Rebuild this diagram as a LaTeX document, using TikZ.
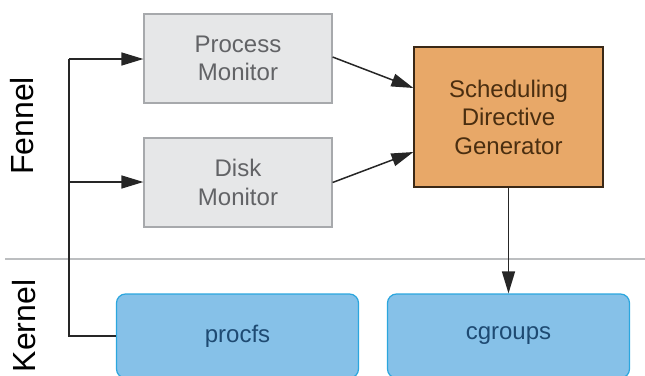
\documentclass[tikz,border=0pt]{standalone}
\usepackage{fontspec}
\setmainfont{Liberation Sans}
\usetikzlibrary{arrows.meta}
\definecolor{grayfill}{HTML}{E6E7E8}
\definecolor{grayline}{HTML}{A7A9AC}
\definecolor{graytext}{HTML}{626366}
\definecolor{orfill}{HTML}{E8A868}
\definecolor{orline}{HTML}{3A2816}
\definecolor{ortext}{HTML}{4A2E10}
\definecolor{blfill}{HTML}{86C1E8}
\definecolor{blline}{HTML}{2BA6DE}
\definecolor{bltext}{HTML}{1E4A72}
\definecolor{sepline}{HTML}{BCBEC0}
\tikzset{
  x=1pt, y=-1pt,
  monitor/.style={draw=grayline, fill=grayfill, line width=1.2pt, text=graytext,
    minimum width=188pt, minimum height=89pt, align=center,
    font=\fontsize{24}{28.5}\selectfont, inner sep=0pt},
  generator/.style={draw=orline, fill=orfill, line width=1.2pt, text=ortext,
    minimum width=189pt, minimum height=140pt, align=center,
    font=\fontsize{24}{28.5}\selectfont, inner sep=0pt},
  kernelbox/.style={draw=blline, fill=blfill, line width=1.2pt, text=bltext,
    rounded corners=9pt, minimum width=242pt, minimum height=84pt,
    font=\fontsize{24}{28.5}\selectfont, inner sep=0pt},
  layer/.style={rotate=90, font=\fontsize{32}{36}\selectfont, inner sep=0pt},
  link/.style={line width=1.5pt, draw=black!85, -{Triangle[length=22pt, width=13pt]}},
  plain/.style={line width=1.5pt, draw=black!85}
}
\begin{document}
\begin{tikzpicture}
\useasboundingbox (0,0) rectangle (645,375);
\clip (0,0) rectangle (645,375);

% layer separator
\draw[sepline, line width=1.2pt] (5,259) -- (645,259);

% layer labels
\node[layer] (fennel) at (22,126) {Fennel};
\node[layer] (kernel) at (24,326) {Kernel};

% user-space components
\node[monitor] (pm) at (238,58.5) {Process\\Monitor};
\node[monitor] (dm) at (238,182.5) {Disk\\Monitor};
\node[generator] (sdg) at (508.5,117) {Scheduling\\Directive\\Generator};

% kernel interfaces
\node[kernelbox] (procfs) at (237.5,336) {procfs};
\node[kernelbox] (cgroups) at (508.5,336) {cgroups};

% data flow
\coordinate (bus) at (69,59);
\coordinate (busdm) at (69,182);
\draw[plain] (procfs.west) -| (bus);
\draw[link] (bus) -- (pm.west |- bus);
\draw[link] (busdm) -- (dm.west |- busdm);
\draw[link] ([yshift=1.5pt]pm.east) -- ([yshift=29pt]sdg.west);
\draw[link] (dm.east) -- ([yshift=-35pt]sdg.west);
\draw[link] (sdg.south) -- (sdg.south |- cgroups.north);
\end{tikzpicture}
\end{document}
